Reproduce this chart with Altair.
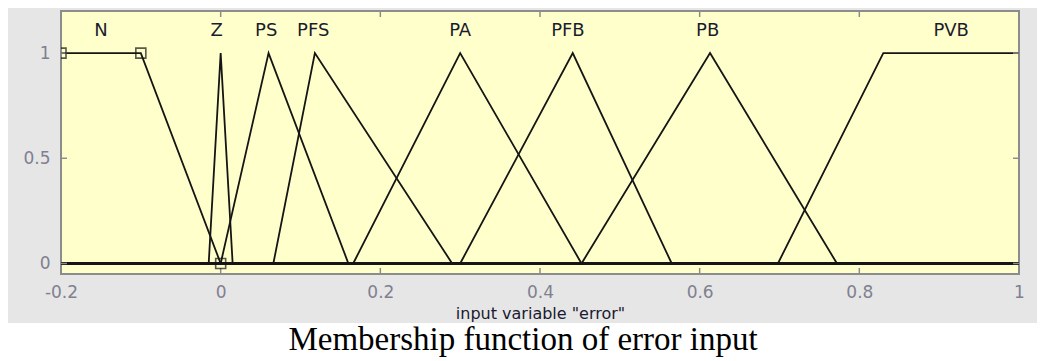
import altair as alt
import pandas as pd

# Membership functions (breakpoints)
mf_names = ["N", "Z", "PS", "PFS", "PA", "PFB", "PB", "PVB"]
N_x = [-0.2, -0.1, 0.0, 1.0]
N_y = [1, 1, 0, 0]
Z_x = [-0.2, -0.015, 0.0, 0.015, 1.0]
Z_y = [0, 0, 1, 0, 0]
PS_x = [-0.2, 0.0, 0.06, 0.16, 1.0]
PS_y = [0, 0, 1, 0, 0]
PFS_x = [-0.2, 0.066, 0.118, 0.29, 1.0]
PFS_y = [0, 0, 1, 0, 0]
PA_x = [-0.2, 0.166, 0.30, 0.452, 1.0]
PA_y = [0, 0, 1, 0, 0]
PFB_x = [-0.2, 0.30, 0.441, 0.565, 1.0]
PFB_y = [0, 0, 1, 0, 0]
PB_x = [-0.2, 0.452, 0.613, 0.772, 1.0]
PB_y = [0, 0, 1, 0, 0]
PVB_x = [-0.2, 0.698, 0.83, 1.0]
PVB_y = [0, 0, 1, 1]

# label centres of each MF name
label_x = [-0.15, -0.005, 0.057, 0.116, 0.30, 0.435, 0.61, 0.915]

# square handles of the selected MF (N)
sq_x = [-0.2, -0.1, 0.0]
sq_y = [1, 1, 0]

x_ticks = [-0.2, 0.0, 0.2, 0.4, 0.6, 0.8, 1.0]
y_ticks = [0.0, 0.5, 1.0]

x_title = 'input variable "error"'
caption = "Membership function of error input"

W, H = 958, 263
XS = alt.Scale(domain=[-0.2, 1.0], nice=False, zero=False)
YS = alt.Scale(domain=[-0.05, 1.2], nice=False, zero=False)

xs_all = [N_x, Z_x, PS_x, PFS_x, PA_x, PFB_x, PB_x, PVB_x]
ys_all = [N_y, Z_y, PS_y, PFS_y, PA_y, PFB_y, PB_y, PVB_y]
rows = []
for name, xs, ys in zip(mf_names, xs_all, ys_all):
    for i, (a, b) in enumerate(zip(xs, ys)):
        rows.append({"mf": name, "x": a, "y": b, "o": i})
df = pd.DataFrame(rows)

lab_font = "DejaVu Sans"
tick_col = "#808090"

XA = alt.Axis(values=x_ticks, grid=False, domain=False, ticks=False,
              labelExpr="datum.value < 0 ? '-' + format(-datum.value, '~g') : format(datum.value, '~g')",
              labelFont=lab_font, labelFontSize=17, labelColor=tick_col,
              labelPadding=10, labelFlush=False,
              titleFont=lab_font, titleFontSize=16, titleFontWeight="normal",
              titleColor="#1a1a30", titlePadding=5)
YA = alt.Axis(values=y_ticks, grid=False, domain=False, ticks=False,
              labelExpr="format(datum.value, '~g')",
              labelFont=lab_font, labelFontSize=17, labelColor=tick_col,
              labelPadding=11)


def X(f):
    return alt.X(f, scale=XS, title=x_title, axis=XA)


def Y(f):
    return alt.Y(f, scale=YS, title=None, axis=YA)


lines = alt.Chart(df).mark_line(color="#151515", strokeWidth=1.8, clip=True).encode(
    x=X("x:Q"), y=Y("y:Q"), detail="mf:N", order="o:Q",
)

squares = alt.Chart(pd.DataFrame({"x": sq_x, "y": sq_y})).mark_point(
    shape="square", filled=False, size=100, color="#151515", strokeWidth=1.6, clip=True
).encode(x=X("x:Q"), y=Y("y:Q"))

labels = alt.Chart(pd.DataFrame({"x": label_x, "t": mf_names})).mark_text(
    font=lab_font, fontSize=18, color="#1c1c2c", baseline="middle", align="center"
).encode(x=X("x:Q"), y=alt.datum(1.105, scale=YS, title=None, axis=YA), text="t:N")

tdx = pd.DataFrame({"t": x_ticks})
tdy = pd.DataFrame({"t": y_ticks})
tick_style = dict(color="#8c8c8c", strokeWidth=1.5)
xt_bot = alt.Chart(tdx).mark_rule(**tick_style).encode(
    x=X("t:Q"), y=alt.value(H), y2=alt.value(H - 6))
xt_top = alt.Chart(tdx).mark_rule(**tick_style).encode(
    x=X("t:Q"), y=alt.value(0), y2=alt.value(6))
yt_left = alt.Chart(tdy).mark_rule(**tick_style).encode(
    y=Y("t:Q"), x=alt.value(0), x2=alt.value(6))
yt_right = alt.Chart(tdy).mark_rule(**tick_style).encode(
    y=Y("t:Q"), x=alt.value(W), x2=alt.value(W - 6))

one = pd.DataFrame({"a": [0]})
white = alt.Chart(one).mark_rect(color="white", clip=False).encode(
    x=alt.value(-60), x2=alt.value(W + 20), y=alt.value(312), y2=alt.value(400))
cap = alt.Chart(one).mark_text(
    font="Liberation Serif", fontSize=33, color="black", align="center", baseline="alphabetic"
).encode(x=alt.value(462), y=alt.value(339), text=alt.value(caption))

chart = alt.layer(
    lines, white, xt_bot, xt_top, yt_left, yt_right, squares, labels, cap
).properties(
    width=W, height=H,
    autosize=alt.AutoSizeParams(type="none"),
    padding={"left": 53, "top": 3, "right": 18, "bottom": 84},
    background="#e6e6e6",
).configure_view(fill="#ffffcc", stroke="#8c8c8c", strokeWidth=2)

chart.save("out.html", embed_options={"renderer": "svg", "actions": False})
